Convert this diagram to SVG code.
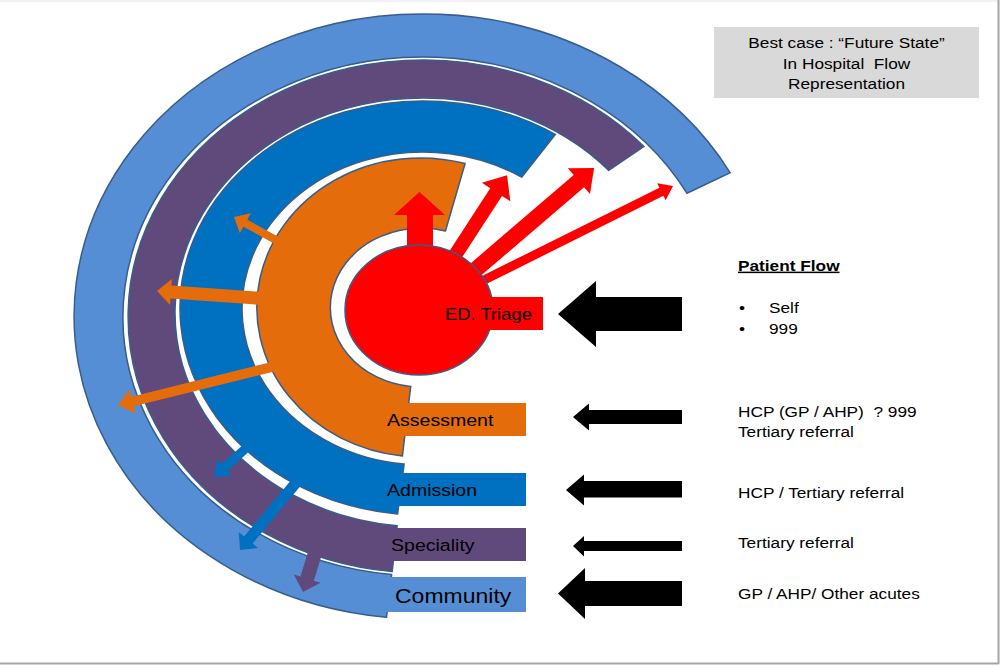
<svg xmlns="http://www.w3.org/2000/svg" width="1001" height="666" viewBox="0 0 1001 666">
<style>
.ring{stroke:#385D8A;stroke-width:1.5;stroke-linejoin:miter}
.lb{fill:#558ED5}.pu{fill:#604A7B}.db{fill:#0070C0}.or{fill:#E46C0A}.rd{fill:#FF0000}
.t{font-family:"Liberation Sans",Arial,sans-serif;fill:#000}
.lbl{font-size:17px}
.side{font-size:15px}
.blk{fill:#000}
</style>
<rect x="0" y="0" width="1001" height="666" fill="#fff"/>
<line x1="0" y1="1" x2="998" y2="1" stroke="#eeeeee" stroke-width="1.5"/>
<line x1="998.5" y1="0" x2="998.5" y2="664" stroke="#a6a6a6" stroke-width="2"/>
<line x1="0" y1="663.5" x2="999" y2="663.5" stroke="#a6a6a6" stroke-width="2"/>

<g id="community">
<path class="ring lb" d="M730.2,172.8 A349,302.5 0 1 0 386.5,617.3 L391.6,574.6 A300,259.5 0 1 1 687,193.3 Z"/>
<rect class="lb" x="384" y="577" width="142" height="35"/>
<text class="t" style="font-size:20px" transform="matrix(1.15 0 0 1 395 603)">Community</text>
</g>
<g id="speciality">
<path class="ring pu" d="M644,146.5 A295,256.5 0 1 0 392.2,571.6 L397.1,525.8 A248,214.5 0 1 1 608.8,170.4 Z"/>
<rect class="pu" x="386" y="528" width="140" height="33"/>
<text class="t lbl" transform="matrix(1.15 0 0 1 391 551)">Speciality</text>
</g>
<g id="admission">
<path class="ring db" d="M555.3,134.4 A243,207 0 1 0 397.6,513.9 L404.1,464.1 A181,156.5 0 1 1 521.6,177.2 Z"/>
<rect class="db" x="390" y="473" width="136" height="33"/>
<text class="t lbl" transform="matrix(1.15 0 0 1 387 496)">Admission</text>
</g>
<g id="assessment">
<path class="ring or" d="M465.1,163.5 A164,149.5 0 1 0 402.4,456 L410.7,386.5 A91,79.5 0 1 1 445.5,230.9 Z"/>
<rect class="or" x="383" y="403" width="143" height="33"/>
<text class="t lbl" transform="matrix(1.15 0 0 1 387 426)">Assessment</text>
</g>

<g id="connectors">
<polygon class="rd" points="407,262 407,215 394,215 419.5,192 445,215 433,215 433,262"/>
<polygon class="rd" points="0,-7 81,-7 81,-17 101,0 81,17 81,7 0,7" transform="translate(452,260) rotate(-57)"/>
<polygon class="rd" points="0,-8 156.6,-8 156.6,-17 176.6,0 156.6,17 156.6,8 0,8" transform="translate(460,283) rotate(-40.6)"/>
<polygon class="rd" points="0,-4.5 216,-4.5 216,-9.5 229,0 216,9.5 216,4.5 0,4.5" transform="translate(468,288) rotate(-26.45)"/>
<polygon class="or" points="0,-4 45.2,-4 45.2,-11.5 58.2,0 45.2,11.5 45.2,4 0,4" transform="translate(285,245) rotate(208.8)"/>
<polygon class="or" points="0,-6.5 99.3,-6.5 99.3,-13 113.3,0 99.3,13 99.3,6.5 0,6.5" transform="translate(270,299) rotate(184.05)"/>
<polygon class="or" points="0,-5 151.9,-5 151.9,-12.5 166.9,0 151.9,12.5 151.9,5 0,5" transform="translate(280,365) rotate(166.1)"/>
<polygon class="db" points="0,-4.5 41.2,-4.5 41.2,-11 55.2,0 41.2,11 41.2,4.5 0,4.5" transform="translate(255,440) rotate(137.9)"/>
<polygon class="db" points="0,-5.5 88.5,-5.5 88.5,-12.5 101.5,0 88.5,12.5 88.5,5.5 0,5.5" transform="translate(305,472) rotate(129.8)"/>
<polygon class="pu" points="0,-7 50.8,-7 50.8,-14 64.8,0 50.8,14 50.8,7 0,7" transform="translate(322,530) rotate(107)"/>
<polygon class="blk" points="682,297 596,297 596,281 558,314 596,347 596,331 682,331"/>
<polygon class="blk" points="682,410 589,410 589,403.5 573,417 589,430.5 589,424 682,424"/>
<polygon class="blk" points="682,481 584,481 584,474.5 566,490 584,505.5 584,497.5 682,497.5"/>
<polygon class="blk" points="682,541 584,541 584,536 573,546 584,556.5 584,551 682,551"/>
<polygon class="blk" points="682,581 585,581 585,568 558,593.5 585,619 585,606 682,606"/>
</g>

<g id="triage">
<ellipse class="ring rd" cx="419" cy="310" rx="74" ry="65"/>
<rect class="rd" x="440" y="297" width="103" height="33"/>
<text class="t" style="font-size:16px" transform="matrix(1.15 0 0 1 445 320)">ED. Triage</text>
</g>

<g id="title">
<rect x="714" y="27" width="265" height="71" fill="#D9D9D9"/>
<text class="t side" text-anchor="middle" transform="matrix(1.15 0 0 1 846.5 48.3)">Best case : “Future State”</text>
<text class="t side" text-anchor="middle" xml:space="preserve" transform="matrix(1.15 0 0 1 846.5 69)">In Hospital  Flow</text>
<text class="t side" text-anchor="middle" transform="matrix(1.15 0 0 1 846.5 89)">Representation</text>
</g>

<g id="patient-flow">
<text class="t side" style="font-weight:bold;text-decoration:underline" transform="matrix(1.15 0 0 1 738 270.7)">Patient Flow</text>
<text class="t side" transform="matrix(1.15 0 0 1 739 313)">•</text>
<text class="t side" transform="matrix(1.15 0 0 1 769 313)">Self</text>
<text class="t side" transform="matrix(1.15 0 0 1 739 334)">•</text>
<text class="t side" transform="matrix(1.15 0 0 1 769 334)">999</text>
<text class="t side" xml:space="preserve" transform="matrix(1.15 0 0 1 738 416.7)">HCP (GP / AHP)  ? 999</text>
<text class="t side" transform="matrix(1.15 0 0 1 738 436.7)">Tertiary referral</text>
<text class="t side" transform="matrix(1.15 0 0 1 738 498)">HCP / Tertiary referral</text>
<text class="t side" transform="matrix(1.15 0 0 1 738 548)">Tertiary referral</text>
<text class="t side" transform="matrix(1.15 0 0 1 738 599)">GP / AHP/ Other acutes</text>
</g>
</svg>
